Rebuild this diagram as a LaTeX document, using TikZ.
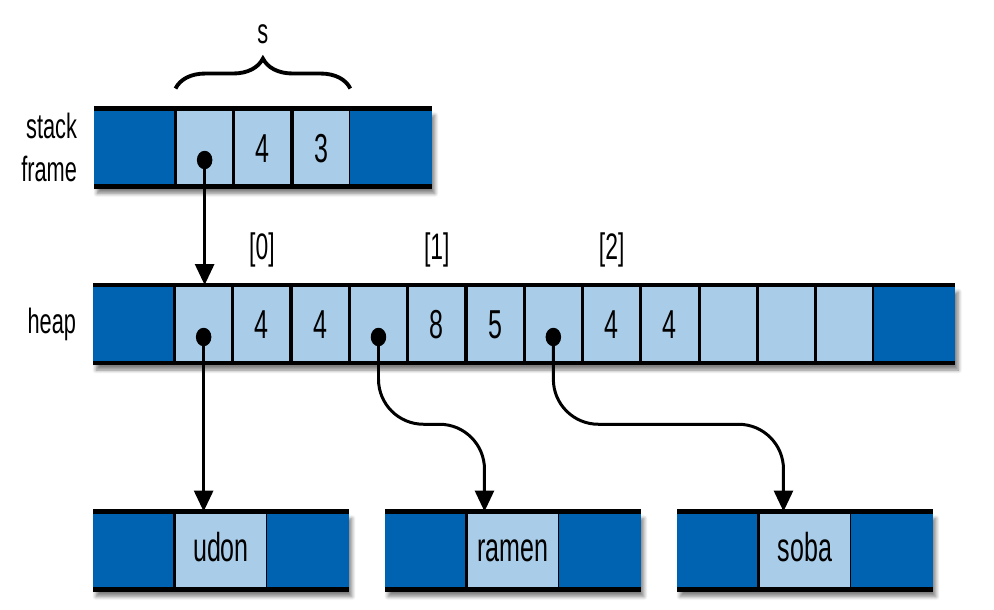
\documentclass[tikz,border=0pt]{standalone}
\usepackage{fontspec}
\setmainfont{Liberation Sans}[FakeStretch=0.62]
\usepackage{tikz}
\usetikzlibrary{positioning,calc,arrows.meta,shapes.geometric,decorations.pathreplacing,backgrounds,shadows.blur}
\definecolor{darkBlue}{RGB}{0,99,177}
\definecolor{lightBlue}{RGB}{169,205,232}

\begin{document}
\begin{tikzpicture}[x=0.02cm, y=-0.02cm,
        every node/.style={font=\fontsize{20}{24}\selectfont, inner sep=0pt, outer sep=0pt},
        endcell/.style={fill=darkBlue, minimum width=1.63cm, minimum height=1.56cm},
        cell/.style={fill=lightBlue, draw=black, line width=1.8pt, minimum width=1.166cm, minimum height=1.56cm,
            font=\fontsize{23}{27}\selectfont, text height=16.5pt, text depth=0pt},
        widecell/.style={cell, minimum width=1.86cm, text height=12pt},
        idx/.style={font=\fontsize{21}{25}\selectfont},
        rail/.style={line width=2.6pt},
        ptrdot/.style={ellipse, fill=black, minimum width=0.31cm, minimum height=0.37cm},
        ptr/.style={line width=1.7pt, -{Triangle[length=0.42cm, width=0.38cm]}},
        barshadow/.style={blur shadow={shadow xshift=0.6mm, shadow yshift=-1.4mm, shadow blur steps=8, shadow opacity=50}}]
        \useasboundingbox (0,0) rectangle (994,609);

        \node[endcell, anchor=west] (s0) at (94,147.5) {};
        \node[cell, right=0pt of s0] (s1) {};
        \node[cell, right=0pt of s1] (s2) {4};
        \node[cell, right=0pt of s2] (s3) {3};
        \node[endcell, right=0pt of s3] (s4) {};
        \node[align=right, anchor=east, left=0.34cm of s0] (stackLbl) {stack\\frame};

        \node[endcell, anchor=west] (h0) at (93,324) {};
        \node[cell, right=0pt of h0] (h1) {};
        \node[cell, right=0pt of h1] (h2) {4};
        \node[cell, right=0pt of h2] (h3) {4};
        \node[cell, right=0pt of h3] (h4) {};
        \node[cell, right=0pt of h4] (h5) {8};
        \node[cell, right=0pt of h5] (h6) {5};
        \node[cell, right=0pt of h6] (h7) {};
        \node[cell, right=0pt of h7] (h8) {4};
        \node[cell, right=0pt of h8] (h9) {4};
        \node[cell, right=0pt of h9] (h10) {};
        \node[cell, right=0pt of h10] (h11) {};
        \node[cell, right=0pt of h11] (h12) {};
        \node[endcell, right=0pt of h12] (h13) {};
        \node[anchor=east, left=0.34cm of h0] (heapLbl) {heap};

        \node[idx, above=0.36cm of h2] (idx0) {[0]};
        \node[idx, above=0.36cm of h5] (idx1) {[1]};
        \node[idx, above=0.36cm of h8] (idx2) {[2]};

        \node[endcell, anchor=west] (u0) at (93,550.5) {};
        \node[widecell, right=0pt of u0] (u1) {udon};
        \node[endcell, right=0pt of u1] (u2) {};

        \node[endcell, anchor=west] (r0) at (385,550.5) {};
        \node[widecell, right=0pt of r0] (r1) {ramen};
        \node[endcell, right=0pt of r1] (r2) {};

        \node[endcell, anchor=west] (k0) at (677,550.5) {};
        \node[widecell, right=0pt of k0] (k1) {soba};
        \node[endcell, right=0pt of k1] (k2) {};

        \begin{scope}[on background layer]
            \path[barshadow] (s0.north west) rectangle (s4.south east);
            \path[barshadow] (h0.north west) rectangle (h13.south east);
            \path[barshadow] (u0.north west) rectangle (u2.south east);
            \path[barshadow] (r0.north west) rectangle (r2.south east);
            \path[barshadow] (k0.north west) rectangle (k2.south east);
        \end{scope}

        \draw[rail] (s0.north west) -- (s4.north east);
        \draw[rail] (s0.south west) -- (s4.south east);
        \draw[rail] (h0.north west) -- (h13.north east);
        \draw[rail] (h0.south west) -- (h13.south east);
        \draw[rail] (u0.north west) -- (u2.north east);
        \draw[rail] (u0.south west) -- (u2.south east);
        \draw[rail] (r0.north west) -- (r2.north east);
        \draw[rail] (r0.south west) -- (r2.south east);
        \draw[rail] (k0.north west) -- (k2.north east);
        \draw[rail] (k0.south west) -- (k2.south east);

        \draw[line width=2.2pt, decorate, decoration={brace, amplitude=0.6cm}]
            ([yshift=0.4cm]s1.north west) -- ([yshift=0.4cm]s3.north east)
            node[midway, above=0.9cm] (sLbl) {s};

        \node[ptrdot] (d0) at ([yshift=-0.25cm]s1.center) {};
        \node[ptrdot] (d1) at ([yshift=-0.26cm]h1.center) {};
        \node[ptrdot] (d4) at ([yshift=-0.26cm]h4.center) {};
        \node[ptrdot] (d7) at ([yshift=-0.26cm]h7.center) {};
        \coordinate (ramenTip) at ([xshift=0.36cm]r1.north west);
        \coordinate (sobaTip) at ([xshift=0.5cm]k1.north west);
        \coordinate (bend) at ($(d4.center)!0.5!(r1.north)$);

        \draw[ptr] (d0.center) -- (d0.center |- h1.north);
        \draw[ptr] (d1.center) -- (d1.center |- u1.north);
        \draw[ptr, rounded corners=0.9cm] (d4.center) -- (d4.center |- bend) -- (ramenTip |- bend) -- (ramenTip);
        \draw[ptr, rounded corners=0.9cm] (d7.center) -- (d7.center |- bend) -- (sobaTip |- bend) -- (sobaTip);
    \end{tikzpicture}
\end{document}
